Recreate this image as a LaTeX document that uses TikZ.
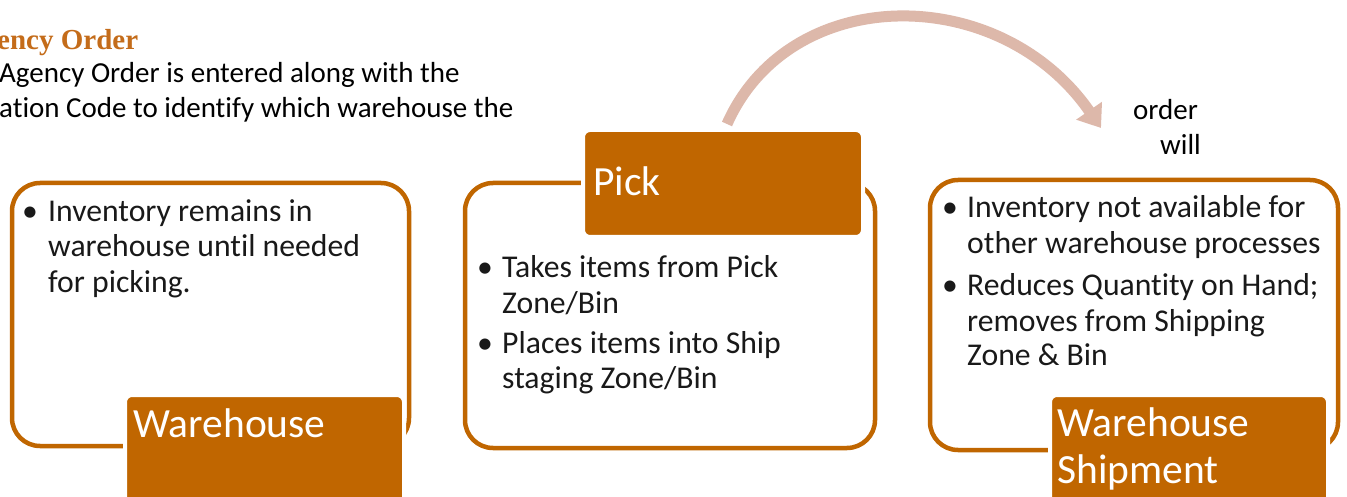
\documentclass[tikz,border=0pt]{standalone}
\usepackage{fontspec}
\setmainfont{Carlito}[Ligatures=NoCommon]
\newfontfamily\headfont{Liberation Serif}
\usetikzlibrary{arrows.meta}
\definecolor{brand}{RGB}{192,102,0}
\definecolor{headc}{RGB}{196,108,26}
\definecolor{arrowc}{RGB}{221,184,170}
\definecolor{bodytxt}{RGB}{25,25,25}
\begin{document}
\begin{tikzpicture}[x=1pt,y=-1pt,
 outline/.style={draw=brand, line width=4.5pt, rounded corners=28pt, rectangle, inner sep=0pt},
 tag/.style={fill=brand, draw=white, line width=4pt, rounded corners=7pt, rectangle, inner sep=0pt},
 bodyline/.style={anchor=base west, inner sep=0pt, text=bodytxt, font=\fontsize{31.7}{35}\selectfont},
 bul/.style={anchor=base, inner sep=0pt, text=bodytxt, font=\fontsize{31.7}{35}\selectfont},
 tagtext/.style={anchor=base west, inner sep=0pt, text=white, font=\fontsize{41.5}{47}\selectfont},
 note/.style={anchor=base west, inner sep=0pt, text=black, font=\fontsize{29}{35}\selectfont},
]
\useasboundingbox (0,0) rectangle (1347,497);
\clip (0,0) rectangle (1347,497);
\fill[white] (0,0) rectangle (1347,497);

% heading text
\node[anchor=base west, inner sep=0pt, text=headc, font=\headfont\bfseries\fontsize{29}{34}\selectfont] (head) at (-3,50) {ency Order};
\node[note] (n1) at (-1,83) {Agency Order is entered along with the};
\node[note] (n2) at (-1,118) {ation Code to identify which warehouse the};
\node[note] (n3) at (1133,120) {order};
\node[note] (n4) at (1160,155) {will};

% curved arrow
\coordinate (arrS) at (727,124);
\coordinate (arrE) at (1101,128);
\draw[arrowc, line width=11pt, -{Triangle[width=30pt,length=21pt]}] (arrS) .. controls (790,-18) and (1000,-18) .. (arrE);

% outlines
\node[outline, minimum width=397pt, minimum height=263pt] (boxL) at (210.5,314.5) {};
\node[outline, minimum width=410pt, minimum height=265pt] (boxM) at (670,315.5) {};
\node[outline, minimum width=408pt, minimum height=270pt] (boxR) at (1134,315) {};

% tags
\node[tag, minimum width=279pt, minimum height=125pt] (tagL) at (264.5,457.5) {};
\node[tag, minimum width=280pt, minimum height=107pt] (tagM) at (723,183.5) {};
\node[tag, minimum width=278pt, minimum height=125pt] (tagR) at (1189,457.5) {};

\node[tagtext] (tL) at (133,437) {Warehouse};
\node[tagtext] (tM) at (593,196) {Pick};
\node[tagtext] (tR1) at (1057,436) {Warehouse};
\node[tagtext] (tR2) at (1057,483) {Shipment};

% left bullets
\node[bul] (bL1) at (30,222) {•};
\node[bodyline] (L1) at (48,222) {Inventory remains in};
\node[bodyline] (L2) at (48,257) {warehouse until needed};
\node[bodyline] (L3) at (48,292) {for picking.};

% middle bullets
\node[bul] (bM1) at (485,277) {•};
\node[bodyline] (M1) at (502,277) {Takes items from Pick};
\node[bodyline] (M2) at (502,313) {Zone/Bin};
\node[bul] (bM2) at (485,353) {•};
\node[bodyline] (M3) at (502,353) {Places items into Ship};
\node[bodyline] (M4) at (502,388) {staging Zone/Bin};

% right bullets
\node[bul] (bR1) at (950,218) {•};
\node[bodyline] (R1) at (967,218) {Inventory not available for};
\node[bodyline] (R2) at (967,254) {other warehouse processes};
\node[bul] (bR2) at (950,295) {•};
\node[bodyline] (R3) at (967,295) {Reduces Quantity on Hand;};
\node[bodyline] (R4) at (967,331) {removes from Shipping};
\node[bodyline] (R5) at (967,365) {Zone \& Bin};
\end{tikzpicture}
\end{document}
